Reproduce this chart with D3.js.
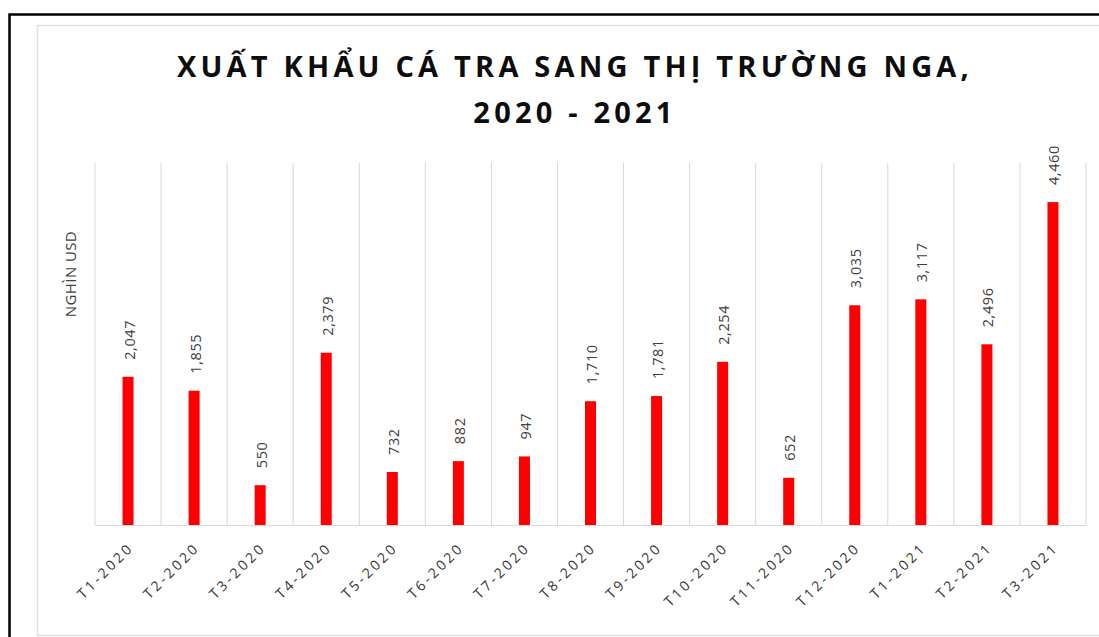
<!DOCTYPE html>
<html>
<head>
<meta charset="utf-8">
<script src="https://cdn.jsdelivr.net/npm/d3@7"></script>
<style>
  html, body { margin: 0; padding: 0; background: #fff; }
  svg { display: block; }
</style>
</head>
<body>
<svg id="chart" width="1099" height="637"></svg>
<script>
const categories = ["T1-2020","T2-2020","T3-2020","T4-2020","T5-2020","T6-2020","T7-2020","T8-2020","T9-2020","T10-2020","T11-2020","T12-2020","T1-2021","T2-2021","T3-2021"];
const values = [2047, 1855, 550, 2379, 732, 882, 947, 1710, 1781, 2254, 652, 3035, 3117, 2496, 4460];
const titleLines = ["XUẤT KHẨU CÁ TRA SANG THỊ TRƯỜNG NGA,", "2020 - 2021"];
const yAxisTitle = "NGHÌN USD";
const yMax = 5000;

const svg = d3.select("#chart");
const W = 1099, H = 637;
const plot = { left: 95, right: 1086, top: 163, bottom: 525 };

// outer black frame
svg.append("rect").attr("x", 9.5).attr("y", 14.5).attr("width", W + 20).attr("height", H + 20)
  .attr("fill", "#fff").attr("stroke", "#000").attr("stroke-width", 2.5);
// inner light frame
svg.append("rect").attr("x", 37.5).attr("y", 25.5).attr("width", W + 20).attr("height", 610)
  .attr("fill", "#fff").attr("stroke", "#e0e0e0").attr("stroke-width", 1.5);

const x = d3.scaleBand().domain(categories).range([plot.left, plot.right]).paddingInner(0).paddingOuter(0);
const y = d3.scaleLinear().domain([0, yMax]).range([plot.bottom, plot.top]);

// vertical gridlines at category boundaries
const bounds = categories.map(c => x(c)).concat([x(categories[categories.length - 1]) + x.bandwidth()]);
svg.append("g").selectAll("line").data(bounds).join("line")
  .attr("x1", d => d).attr("x2", d => d)
  .attr("y1", plot.top).attr("y2", plot.bottom)
  .attr("stroke", "#d9d9d9").attr("stroke-width", 1);

// baseline
svg.append("line").attr("x1", plot.left).attr("x2", plot.right)
  .attr("y1", plot.bottom + 0.5).attr("y2", plot.bottom + 0.5)
  .attr("stroke", "#d9d9d9").attr("stroke-width", 1);

// bars
const barW = 11;
svg.append("g").selectAll("rect").data(values).join("rect")
  .attr("x", (d, i) => x(categories[i]) + x.bandwidth() / 2 - barW / 2)
  .attr("y", d => y(d))
  .attr("width", barW)
  .attr("height", d => plot.bottom - y(d))
  .attr("fill", "#ff0000");

// data labels
const fmt = d3.format(",");
svg.append("g").selectAll("text").data(values).join("text")
  .attr("transform", (d, i) => `translate(${x(categories[i]) + x.bandwidth() / 2 + 6.5},${y(d) - 17}) rotate(-90)`)
  .attr("text-anchor", "start")
  .attr("font-family", "'Open Sans', sans-serif")
  .attr("font-size", 14.5)
  .attr("letter-spacing", 0.6)
  .attr("fill", "#404040")
  .text(d => fmt(d));

// x axis labels
svg.append("g").selectAll("text").data(categories).join("text")
  .attr("transform", d => `translate(${x(d) + x.bandwidth() / 2 + 3},${plot.bottom + 20}) rotate(-45)`)
  .attr("text-anchor", "end")
  .attr("dy", "0.35em")
  .attr("font-family", "'Open Sans', sans-serif")
  .attr("font-size", 14)
  .attr("letter-spacing", 2.9)
  .attr("fill", "#333333")
  .text(d => d);

// y axis title
svg.append("text")
  .attr("transform", `translate(76,274) rotate(-90)`)
  .attr("text-anchor", "middle")
  .attr("font-family", "'Open Sans', sans-serif")
  .attr("font-size", 15)
  .attr("letter-spacing", 0.4)
  .attr("fill", "#404040")
  .text(yAxisTitle);

// title
svg.append("g").selectAll("text").data(titleLines).join("text")
  .attr("x", 575)
  .attr("y", (d, i) => 77 + i * 46)
  .attr("text-anchor", "middle")
  .attr("font-family", "'Open Sans', sans-serif")
  .attr("font-weight", "bold")
  .attr("font-size", 29)
  .attr("letter-spacing", 4.2)
  .attr("fill", "#0d0d0d")
  .text(d => d);
</script>
</body>
</html>
